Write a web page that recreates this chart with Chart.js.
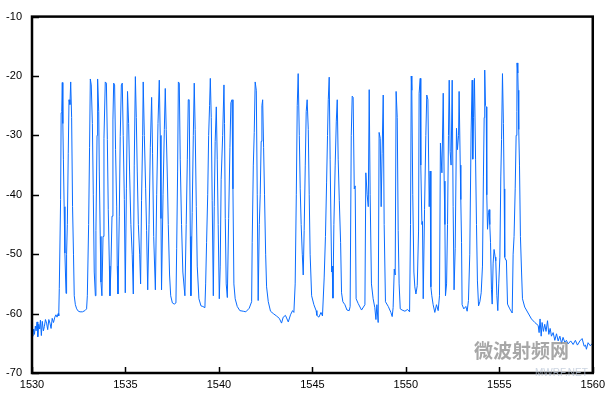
<!DOCTYPE html>
<html>
<head>
<meta charset="utf-8">
<script src="https://cdn.jsdelivr.net/npm/chart.js@4.4.1/dist/chart.umd.min.js"></script>
<style>
  html, body { margin: 0; padding: 0; background: #fff; }
  #wrap { width: 610px; height: 394px; position: relative; }
</style>
</head>
<body>
<div id="wrap"><canvas id="spectrum"></canvas></div>
<script>
// wavelength (nm) and optical power (dBm)
const wavelength = [
  1530.00, 1530.04, 1530.09, 1530.13, 1530.18, 1530.22, 1530.27, 1530.31, 1530.36, 1530.41,
  1530.45, 1530.50, 1530.55, 1530.61, 1530.66, 1530.72, 1530.78, 1530.84, 1530.90, 1530.96,
  1531.02, 1531.08, 1531.15, 1531.22, 1531.28, 1531.34, 1531.40, 1531.43,
  1531.46, 1531.53, 1531.56, 1531.59, 1531.62, 1531.65, 1531.68, 1531.72, 1531.76, 1531.82,
  1531.85, 1531.89, 1531.94, 1531.98, 1532.03, 1532.07, 1532.12, 1532.17, 1532.22, 1532.26,
  1532.32, 1532.39, 1532.48, 1532.57, 1532.70, 1532.83, 1532.92, 1532.96, 1533.03, 1533.08,
  1533.12, 1533.17, 1533.23, 1533.28, 1533.33, 1533.39, 1533.42, 1533.48, 1533.51, 1533.57,
  1533.60, 1533.65, 1533.69, 1533.74, 1533.80, 1533.85, 1533.92, 1533.98, 1534.03, 1534.08,
  1534.14, 1534.17, 1534.22, 1534.28, 1534.33, 1534.37, 1534.42, 1534.47, 1534.53, 1534.56,
  1534.60, 1534.67, 1534.72, 1534.78, 1534.83, 1534.88, 1534.94, 1534.99, 1535.05, 1535.11,
  1535.17, 1535.22, 1535.29, 1535.36, 1535.42, 1535.47, 1535.53, 1535.58, 1535.63, 1535.69,
  1535.76, 1535.81, 1535.86, 1535.92, 1535.95, 1536.01, 1536.08, 1536.13, 1536.19, 1536.26,
  1536.33, 1536.40, 1536.45, 1536.51, 1536.60, 1536.67, 1536.74, 1536.81, 1536.86, 1536.90,
  1536.93, 1537.01, 1537.08, 1537.13, 1537.18, 1537.24, 1537.29, 1537.36, 1537.42, 1537.51,
  1537.61, 1537.70, 1537.74, 1537.79, 1537.83, 1537.88, 1537.93, 1538.00, 1538.07, 1538.18,
  1538.25, 1538.31, 1538.36, 1538.41, 1538.47, 1538.50, 1538.57, 1538.63, 1538.68, 1538.73,
  1538.79, 1538.84, 1538.93, 1539.04, 1539.14, 1539.25, 1539.29, 1539.34, 1539.40, 1539.45,
  1539.50, 1539.54, 1539.59, 1539.64, 1539.70, 1539.75, 1539.80, 1539.86, 1539.91, 1539.96,
  1540.02, 1540.07, 1540.12, 1540.20, 1540.27, 1540.30, 1540.34, 1540.39, 1540.45, 1540.52,
  1540.59, 1540.64, 1540.70, 1540.75, 1540.80, 1540.87, 1540.98, 1541.12, 1541.30, 1541.44,
  1541.62, 1541.75, 1541.78, 1541.84, 1541.89, 1541.94, 1542.00, 1542.05, 1542.10, 1542.16,
  1542.21, 1542.26, 1542.30, 1542.34, 1542.39, 1542.44, 1542.50, 1542.55, 1542.64, 1542.76,
  1542.91, 1543.08, 1543.23, 1543.35, 1543.44, 1543.56, 1543.71, 1543.83, 1543.94, 1544.01,
  1544.08, 1544.14, 1544.19, 1544.24, 1544.30, 1544.35, 1544.40, 1544.46, 1544.51, 1544.56,
  1544.62, 1544.67, 1544.72, 1544.78, 1544.83, 1544.88, 1544.96, 1545.08, 1545.20, 1545.24,
  1545.35, 1545.46, 1545.54, 1545.63, 1545.70, 1545.76, 1545.81, 1545.85, 1545.90, 1545.95,
  1546.03, 1546.06, 1546.10, 1546.15, 1546.22, 1546.28, 1546.33, 1546.38, 1546.44, 1546.51,
  1546.56, 1546.63, 1546.74, 1546.85, 1546.97, 1547.02, 1547.08, 1547.13, 1547.18, 1547.24,
  1547.29, 1547.34, 1547.45, 1547.63, 1547.81, 1547.86, 1547.93, 1547.99, 1548.04, 1548.09,
  1548.16, 1548.25, 1548.34, 1548.40, 1548.45, 1548.52, 1548.57, 1548.63, 1548.68, 1548.73,
  1548.79, 1548.84, 1548.91, 1549.06, 1549.20, 1549.27, 1549.32, 1549.38, 1549.43, 1549.48,
  1549.54, 1549.59, 1549.64, 1549.70, 1549.80, 1549.95, 1550.09, 1550.20, 1550.25, 1550.29,
  1550.32, 1550.37, 1550.43, 1550.48, 1550.54, 1550.61, 1550.68, 1550.71, 1550.77, 1550.80,
  1550.86, 1550.89, 1550.93, 1551.00, 1551.07, 1551.12, 1551.18, 1551.25, 1551.30, 1551.34,
  1551.39, 1551.46, 1551.55, 1551.64, 1551.73, 1551.80, 1551.85, 1551.93, 1552.00, 1552.05,
  1552.09, 1552.12, 1552.18, 1552.23, 1552.28, 1552.32, 1552.37, 1552.42, 1552.48, 1552.53,
  1552.58, 1552.64, 1552.71, 1552.76, 1552.82, 1552.85, 1552.91, 1552.94, 1552.98, 1553.01,
  1553.10, 1553.21, 1553.28, 1553.35, 1553.42, 1553.49, 1553.55, 1553.58, 1553.62, 1553.67,
  1553.73, 1553.78, 1553.83, 1553.89, 1553.96, 1554.03, 1554.10, 1554.15, 1554.19, 1554.22,
  1554.26, 1554.30, 1554.33, 1554.37, 1554.42, 1554.46, 1554.49, 1554.53, 1554.58, 1554.62,
  1554.67, 1554.72, 1554.78, 1554.81, 1554.87, 1554.92, 1554.97, 1555.03, 1555.08, 1555.12,
  1555.17, 1555.22, 1555.26, 1555.29, 1555.35, 1555.38, 1555.44, 1555.56, 1555.69, 1555.74,
  1555.79, 1555.85, 1555.90, 1555.94, 1555.95, 1555.99, 1556.01, 1556.04, 1556.08, 1556.13,
  1556.19, 1556.24, 1556.36, 1556.54, 1556.72, 1556.90, 1557.08, 1557.13, 1557.18, 1557.24,
  1557.29, 1557.36, 1557.43, 1557.50, 1557.58, 1557.65, 1557.72, 1557.79, 1557.88, 1557.97,
  1558.06, 1558.15, 1558.24, 1558.33, 1558.41, 1558.50, 1558.59, 1558.68, 1558.82, 1558.95,
  1559.07, 1559.18, 1559.31, 1559.43, 1559.54, 1559.61, 1559.66, 1559.75, 1559.86, 1559.96
];
const power = [
  -63.3, -63.8, -62.6, -63.5, -62.1, -62.9, -61.4, -63.9, -61.8, -62.6,
  -61.1, -63.7, -61.3, -62.9, -62.2, -61.0, -61.6, -62.7, -61.0, -61.6,
  -62.5, -60.8, -61.5, -60.6, -60.2, -60.6, -60.0, -60.4,
  -55.8, -40.8, -26.2, -26.0, -21.1, -28.0, -34.0, -42.0, -49.8, -56.6,
  -50.0, -45.0, -33.0, -24.0, -24.8, -21.0, -27.0, -42.0, -50.0, -57.0,
  -58.5, -59.2, -59.6, -59.7, -59.7, -59.5, -59.2, -57.0, -45.0, -32.0,
  -20.5, -21.5, -28.0, -40.0, -53.0, -57.0, -46.0, -30.0, -20.5, -26.0,
  -36.0, -47.0, -54.7, -57.0, -47.0, -30.5, -21.0, -21.2, -30.7, -42.5,
  -52.0, -57.0, -52.5, -43.6, -27.4, -21.2, -21.5, -32.4, -41.9, -52.0,
  -56.7, -43.6, -30.2, -21.5, -21.2, -30.0, -40.8, -56.5, -39.0, -22.6,
  -28.0, -36.0, -45.0, -50.0, -56.7, -35.0, -20.1, -27.0, -36.0, -45.0,
  -50.0, -55.0, -41.0, -30.0, -21.0, -30.0, -39.0, -46.0, -56.0, -45.0,
  -32.0, -23.6, -33.0, -47.0, -56.0, -40.0, -28.0, -20.7, -30.0, -44.0,
  -56.0, -40.0, -29.0, -22.1, -29.0, -37.0, -45.0, -53.5, -57.0, -58.2,
  -58.4, -58.2, -49.0, -36.0, -21.0, -21.2, -34.0, -45.0, -53.0, -57.0,
  -45.0, -34.0, -24.0, -24.0, -47.0, -57.0, -43.0, -30.0, -21.2, -29.0,
  -42.0, -52.0, -57.5, -58.7, -58.8, -59.0, -55.0, -48.0, -40.0, -30.0,
  -25.0, -20.4, -27.0, -41.0, -57.0, -42.0, -31.0, -25.2, -34.0, -45.0,
  -57.5, -52.0, -37.4, -30.0, -21.5, -28.0, -44.0, -55.0, -57.3, -44.0,
  -32.0, -24.5, -24.0, -39.0, -55.0, -57.5, -58.8, -59.5, -59.6, -59.7,
  -59.1, -58.0, -48.0, -35.0, -29.5, -21.0, -22.4, -40.0, -57.8, -45.0,
  -40.0, -31.0, -25.0, -24.0, -32.0, -40.0, -50.0, -55.5, -58.0, -59.6,
  -60.0, -60.4, -60.8, -61.6, -60.6, -60.3, -61.4, -60.2, -59.5, -59.8,
  -55.0, -40.0, -25.0, -19.6, -30.0, -39.0, -45.0, -50.0, -53.5, -46.0,
  -35.0, -26.0, -24.0, -29.0, -40.0, -50.0, -57.0, -58.5, -59.5, -60.3,
  -60.6, -59.8, -60.4, -54.0, -47.0, -38.0, -30.0, -24.0, -20.2, -34.0,
  -53.0, -52.0, -57.4, -45.0, -35.0, -27.6, -24.0, -34.0, -41.0, -48.0,
  -56.5, -58.0, -58.5, -59.4, -59.5, -58.8, -30.0, -23.4, -23.6, -39.0,
  -38.5, -57.5, -58.3, -59.4, -58.5, -36.3, -40.0, -42.0, -22.3, -40.0,
  -55.0, -57.5, -59.0, -61.0, -58.5, -61.5, -29.5, -30.5, -42.0, -33.0,
  -23.2, -45.0, -58.0, -58.8, -59.8, -60.5, -59.0, -52.5, -53.5, -22.6,
  -27.0, -46.0, -55.0, -59.2, -59.4, -59.6, -59.3, -59.7, -45.0, -20.0,
  -22.4, -40.0, -53.0, -55.5, -56.7, -55.3, -46.1, -22.9, -20.4, -35.0,
  -45.0, -44.5, -57.5, -42.5, -30.0, -23.2, -24.0, -42.0, -36.0, -55.5,
  -57.0, -58.5, -59.8, -58.5, -59.5, -57.0, -31.3, -36.3, -22.9, -37.7,
  -45.0, -57.0, -55.0, -45.0, -30.0, -20.7, -32.7, -35.0, -20.7, -42.0,
  -56.0, -49.0, -28.8, -32.4, -30.0, -22.6, -35.0, -40.8, -48.0, -58.5,
  -59.2, -58.8, -59.6, -57.8, -50.0, -29.6, -20.7, -34.0, -27.0, -20.4,
  -34.0, -45.0, -54.5, -58.7, -58.0, -56.5, -52.0, -37.0, -27.0, -19.0,
  -25.0, -25.2, -40.0, -45.8, -43.0, -42.5, -45.0, -48.0, -56.0, -58.4,
  -51.5, -49.2, -50.5, -51.1, -57.0, -59.5, -55.0, -50.5, -37.0, -30.7,
  -19.6, -28.0, -39.0, -50.5, -51.0, -51.0, -58.4, -59.2, -59.9, -50.0,
  -47.0, -39.0, -30.0, -26.0, -17.8, -19.5, -22.4, -29.0, -35.0, -47.0,
  -53.0, -57.5, -58.9, -59.9, -60.9, -61.5, -62.0, -63.2, -60.9, -63.8,
  -61.5, -63.0, -61.8, -63.0, -61.2, -63.5, -62.5, -63.8, -63.2, -64.5,
  -63.4, -64.6, -63.8, -65.0, -64.0, -64.8, -64.5, -65.1, -64.6, -65.2,
  -64.5, -65.3, -64.6, -64.2, -65.5, -65.3, -66.0, -64.9, -65.4, -65.1
];
const xTicks = [1530, 1535, 1540, 1545, 1550, 1555, 1560];
const yTicks = [-70, -60, -50, -40, -30, -20, -10];

const FONT = "'Liberation Sans', Arial, sans-serif";

// frame box, inward tick marks and the site watermark
const framePlugin = {
  id: 'frame',
  afterDraw(chart) {
    const { ctx, chartArea: a, scales: { x, y } } = chart;
    ctx.save();
    ctx.strokeStyle = '#000';
    ctx.lineWidth = 1.5;
    ctx.beginPath();
    xTicks.forEach(v => {
      const px = Math.round(x.getPixelForValue(v)) + 0.5;
      ctx.moveTo(px, a.bottom);
      ctx.lineTo(px, a.bottom - 6);
    });
    yTicks.forEach(v => {
      const py = Math.round(y.getPixelForValue(v)) + 0.5;
      ctx.moveTo(a.left, py);
      ctx.lineTo(a.left + 7, py);
    });
    ctx.stroke();
    ctx.lineWidth = 2.5;
    ctx.strokeRect(a.left, a.top, a.right - a.left, a.bottom - a.top);

    // watermark
    ctx.globalAlpha = 0.75;
    ctx.fillStyle = '#8a8a8a';
    ctx.font = "bold 19px 'Noto Sans CJK SC', sans-serif";
    ctx.textBaseline = 'middle';
    ctx.fillText('微波射频网', 474, 351);
    ctx.fillStyle = '#b9c6d6';
    ctx.font = "10px " + FONT;
    ctx.fillText('MWRF.NET', 535, 373);
    ctx.restore();
  }
};

new Chart(document.getElementById('spectrum'), {
  type: 'line',
  data: {
    datasets: [{
      data: wavelength.map((w, i) => ({ x: w, y: power[i] })),
      borderColor: '#0a6cff',
      borderWidth: 1,
      pointRadius: 0,
      tension: 0,
      fill: false
    }]
  },
  options: {
    responsive: true,
    maintainAspectRatio: false,
    animation: false,
    layout: { padding: { top: 14, right: 17, left: 0, bottom: 0 } },
    plugins: { legend: { display: false }, tooltip: { enabled: false } },
    scales: {
      x: {
        type: 'linear',
        min: 1530,
        max: 1560,
        afterBuildTicks: s => { s.ticks = xTicks.map(v => ({ value: v })); },
        afterFit: s => { s.height = 21; },
        grid: { display: false, drawTicks: false },
        border: { display: false },
        ticks: {
          color: '#000', padding: 5, maxRotation: 0,
          font: { family: FONT, size: 11 },
          callback: v => String(v)
        }
      },
      y: {
        min: -70,
        max: -10,
        afterBuildTicks: s => { s.ticks = yTicks.map(v => ({ value: v })); },
        afterFit: s => { s.width = 32; },
        grid: { display: false, drawTicks: false },
        border: { display: false },
        ticks: {
          color: '#000', padding: 10,
          font: { family: FONT, size: 11 },
          callback: v => String(v)
        }
      }
    }
  },
  plugins: [framePlugin]
});
</script>
</body>
</html>
